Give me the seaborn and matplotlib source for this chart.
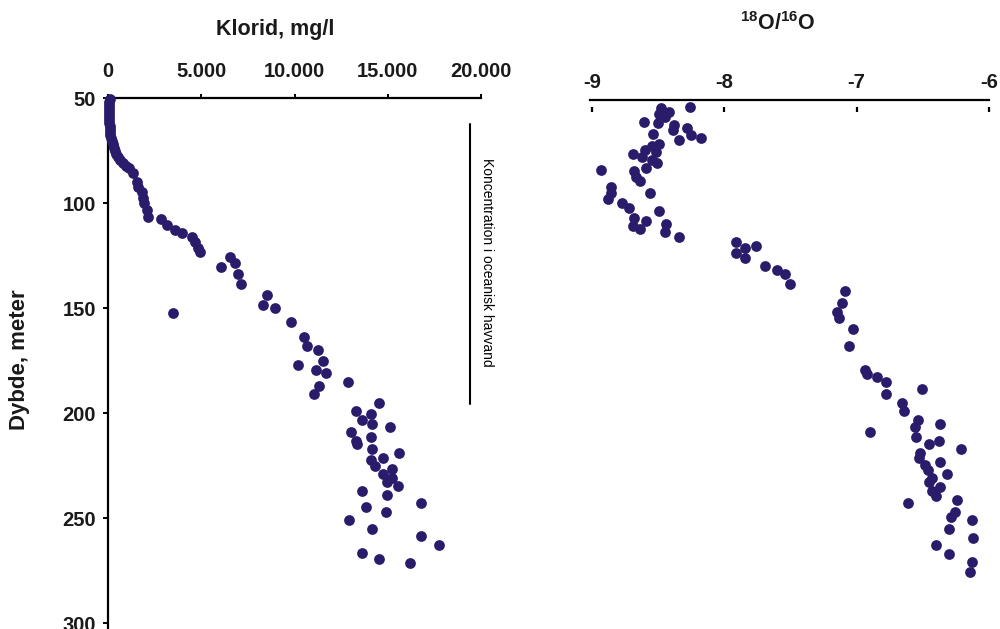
import matplotlib
matplotlib.use("Agg")
import matplotlib.pyplot as plt
import seaborn as sns
import pandas as pd

sns.set_style("white")
plt.rcParams["font.family"] = ["Liberation Sans", "DejaVu Sans"]
plt.rcParams["mathtext.fontset"] = "custom"
plt.rcParams["mathtext.rm"] = "Liberation Sans:bold"
plt.rcParams["mathtext.bf"] = "Liberation Sans:bold"
plt.rcParams["mathtext.default"] = "rm"

# ---------------- data ----------------
chloride = [100, 50, 50, 50, 50, 50, 50, 50, 50, 110, 110, 110, 110, 160, 210, 270, 320,
            380, 430, 540, 640, 800, 970, 1130, 1340, 1560, 1610, 1820, 1880, 1930, 2090,
            2140, 2840, 3160, 3590, 3970, 4500, 4670, 4830, 4930,
            6540, 6810, 6060, 6970, 7130, 8530, 8310, 8950, 9810, 10510, 10670, 11260,
            11530, 10190, 11150, 11690, 11310, 11050, 12870, 3490,
            14530, 13300, 14100, 13620, 14160, 15120, 13030, 14100, 13300, 13350, 14160,
            15600, 14100, 14750, 14320, 15230, 14750, 15230, 14960, 15550, 13620, 14960,
            16780, 13830, 14910, 12920, 14160, 16780, 17750, 13620, 14530, 16190]
depth_cl = [50.5, 51.9, 53.3, 54.8, 56.2, 57.6, 59.0, 60.5, 61.9, 63.3, 64.8, 66.2, 67.6,
            69.0, 70.5, 71.9, 73.8, 75.2, 76.7, 78.1, 79.5, 81.0, 82.4, 83.3, 85.7, 90.0,
            92.4, 94.8, 97.6, 100.0, 103.3, 106.7, 107.6, 110.5, 112.9, 114.3, 116.2,
            118.6, 121.4, 123.3,
            125.7, 128.6, 130.5, 133.8, 138.6, 143.8, 148.6, 150.0, 156.7, 163.8, 168.1,
            170.0, 175.2, 177.1, 179.5, 181.0, 187.1, 191.0, 185.2, 152.4,
            195.2, 199.0, 200.5, 203.3, 205.2, 206.7, 209.0, 211.4, 213.3, 214.8, 217.1,
            219.0, 222.4, 221.4, 225.2, 226.7, 229.0, 231.0, 232.9, 234.8, 237.1, 239.0,
            242.9, 244.8, 247.1, 250.9, 255.2, 258.6, 262.9, 266.7, 269.5, 271.4]

o18 = [-8.48, -8.26, -8.42, -8.49, -8.45, -8.50, -8.61, -8.38, -8.39, -8.28, -8.25, -8.18,
       -8.34, -8.54, -8.49, -8.55, -8.60, -8.52, -8.69, -8.62, -8.55, -8.51, -8.59, -8.93,
       -8.68, -8.67, -8.64, -8.86, -8.86, -8.88, -8.56, -8.77, -8.72, -8.49, -8.68, -8.59,
       -8.69, -8.64, -8.44, -8.45, -8.34,
       -7.91, -7.84, -7.76, -7.91, -7.84, -7.69, -7.60, -7.54, -7.50,
       -7.09, -7.11, -7.15, -7.13, -7.03, -7.06,
       -6.94, -6.92, -6.85, -6.78, -6.78, -6.51, -6.66, -6.64, -6.54, -6.56, -6.55, -6.90,
       -6.37, -6.45, -6.38, -6.21, -6.52, -6.53, -6.37, -6.48, -6.46, -6.32, -6.43, -6.45,
       -6.37, -6.43, -6.40, -6.61, -6.24, -6.26, -6.29, -6.13, -6.30, -6.12, -6.40, -6.30,
       -6.13, -6.14]
depth_o = [54.9, 54.1, 56.5, 57.6, 58.9, 62.0, 61.6, 62.9, 65.2, 64.1, 67.6, 69.2, 70.0,
           67.3, 72.0, 72.9, 74.8, 75.6, 76.7, 77.9, 79.5, 80.8, 83.2, 84.3, 84.8, 87.8,
           89.5, 92.5, 95.4, 98.2, 95.4, 100.1, 102.5, 103.8, 107.0, 108.4, 111.0, 112.5,
           110.0, 114.0, 116.0,
           118.4, 121.6, 120.5, 124.0, 126.3, 130.0, 131.9, 134.0, 138.6,
           141.9, 147.8, 151.8, 154.6, 160.0, 168.1,
           179.5, 181.4, 183.0, 185.4, 191.1, 188.7, 195.1, 199.0, 203.3, 206.8, 211.3, 209.0,
           205.2, 214.8, 213.3, 217.0, 219.2, 221.6, 223.5, 224.8, 227.1, 229.2, 231.1, 233.0,
           235.1, 237.1, 239.4, 242.9, 241.4, 247.0, 249.4, 250.8, 255.1, 259.3, 262.9, 267.3,
           271.0, 275.9]

cl_ticks = [0, 5000, 10000, 15000, 20000]
cl_ticklabels = ["0", "5.000", "10.000", "15.000", "20.000"]
depth_ticks = [50, 100, 150, 200, 250, 300]
o_ticks = [-9, -8, -7, -6]
o_ticklabels = ["-9", "-8", "-7", "-6"]

ocean_cl = 19400
ocean_line_depth = [62.5, 195.5]

# --------------- figure ---------------
W, H = 1000, 629
fig = plt.figure(figsize=(10, 6.29), dpi=100)
dot = "#2B1B6B"

df_cl = pd.DataFrame({"cl": chloride, "depth": depth_cl})
df_o = pd.DataFrame({"o": o18, "depth": depth_o})

# left panel
ax1 = fig.add_axes([108 / W, 0, 373 / W, 1 - 98 / H])
sns.scatterplot(data=df_cl, x="cl", y="depth", ax=ax1, color=dot, s=60,
                linewidth=0, zorder=3, clip_on=False)
ax1.set_xlim(0, 20000)
ax1.set_ylim(50 + (H - 98) / 2.1, 50)
ax1.xaxis.tick_top()
ax1.set_xticks(cl_ticks)
ax1.set_xticklabels(cl_ticklabels)
ax1.set_yticks(depth_ticks)
ax1.set_xlabel("")
ax1.set_ylabel("")
for s in ["right", "bottom"]:
    ax1.spines[s].set_visible(False)
for s in ["top", "left"]:
    ax1.spines[s].set_color("black")
    ax1.spines[s].set_linewidth(1.6)
ax1.tick_params(axis="x", which="major", top=True, bottom=False, direction="out",
                length=3, width=1.4, pad=9.5, labelsize=14.5, colors="black")
ax1.tick_params(axis="y", which="major", left=True, direction="out",
                length=3.6, width=1.4, pad=5, labelsize=14.5, colors="black")
for lab in ax1.get_xticklabels() + ax1.get_yticklabels():
    lab.set_fontweight("bold")
    lab.set_color("#1a1a1a")

ax1.plot([ocean_cl, ocean_cl], ocean_line_depth, color="black", lw=1.5, zorder=2)
fig.text(487 / W, 1 - 262 / H, "Koncentration i oceanisk havvand", rotation=270,
         ha="center", va="center", fontsize=10, color="black")

fig.text(275 / W, 1 - 35 / H, "Klorid, mg/l", ha="center", va="baseline",
         fontsize=15.5, fontweight="bold", color="#1a1a1a")
fig.text(20 / W, 1 - 360 / H, "Dybde, meter", rotation=90, ha="center", va="center",
         fontsize=16, fontweight="bold", color="#1a1a1a")

# right panel
ax2 = fig.add_axes([590 / W, 0, 399 / W, 1 - 100 / H])
sns.scatterplot(data=df_o, x="o", y="depth", ax=ax2, color=dot, s=60,
                linewidth=0, zorder=3, clip_on=False)
ax2.set_xlim(-9.015, -6.0)
ax2.set_ylim(50 + (H - 98) / 2.1, 50 + 2 / 2.1)
ax2.xaxis.tick_top()
ax2.set_xticks(o_ticks)
ax2.set_xticklabels(o_ticklabels)
ax2.set_yticks([])
ax2.set_xlabel("")
ax2.set_ylabel("")
for s in ["right", "bottom", "left"]:
    ax2.spines[s].set_visible(False)
ax2.spines["top"].set_color("black")
ax2.spines["top"].set_linewidth(1.6)
ax2.tick_params(axis="x", top=True, bottom=False, length=0, pad=5.5,
                labelsize=14.5, colors="black")
for lab in ax2.get_xticklabels():
    lab.set_fontweight("bold")
    lab.set_color("#1a1a1a")

sec = ax2.secondary_xaxis(1 - 7 / (H - 100))
sec.set_xticks(o_ticks)
sec.tick_params(axis="x", direction="in", length=3.6, width=1.6, labeltop=False,
                labelbottom=False, colors="black")
for s in sec.spines.values():
    s.set_visible(False)

fig.text(778 / W, 1 - 30 / H, r"$^{18}$O/$^{16}$O", ha="center", va="baseline",
         fontsize=15.5, fontweight="bold", color="#1a1a1a")

fig.savefig("out.png", dpi=100)
